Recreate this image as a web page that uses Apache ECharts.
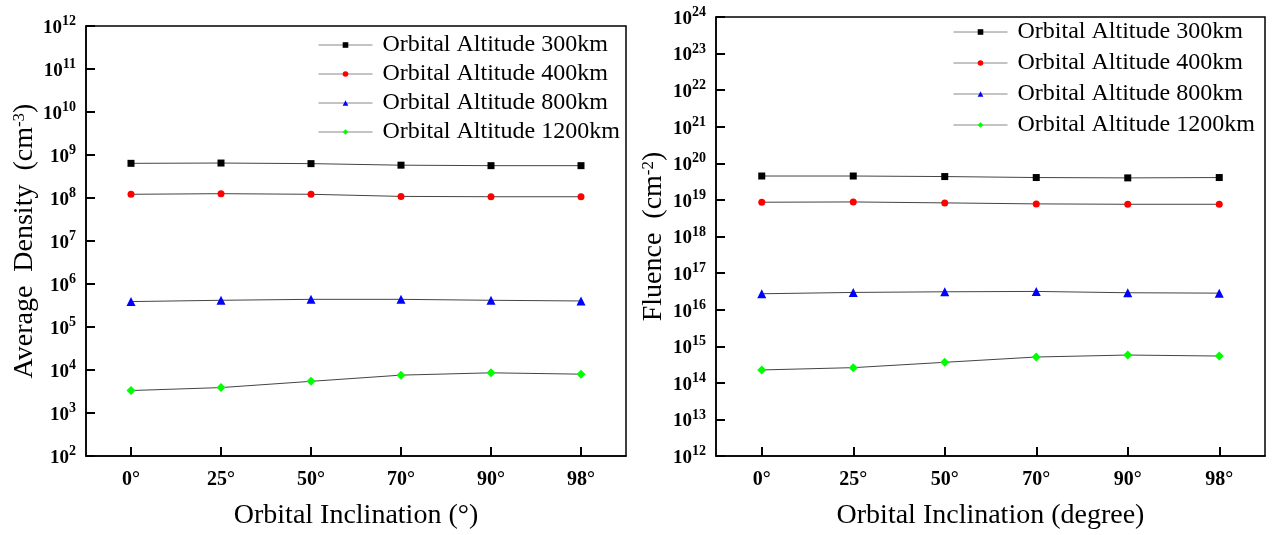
<!DOCTYPE html>
<html>
<head>
<meta charset="utf-8">
<script src="https://cdn.jsdelivr.net/npm/echarts@6/dist/echarts.min.js"></script>
<style>
  html, body { margin: 0; padding: 0; background: #fff; }
  #chart { width: 1277px; height: 535px; }
</style>
</head>
<body>
<div id="chart"></div>
<script>
// categories
const inclinations = ['0°', '25°', '50°', '70°', '90°', '98°'];
const altitudes = ['Orbital Altitude 300km', 'Orbital Altitude 400km', 'Orbital Altitude 800km', 'Orbital Altitude 1200km'];

// left: average density (cm^-3)
const density300 = [6.4e8, 6.5e8, 6.3e8, 5.8e8, 5.65e8, 5.65e8];
const density400 = [1.22e8, 1.26e8, 1.22e8, 1.09e8, 1.07e8, 1.07e8];
const density800 = [3.9e5, 4.18e5, 4.4e5, 4.4e5, 4.18e5, 4.03e5];
const density1200 = [3.33e3, 3.9e3, 5.45e3, 7.6e3, 8.6e3, 8.0e3];

// right: fluence (cm^-2)
const fluence300 = [4.5e19, 4.5e19, 4.35e19, 4.09e19, 4.0e19, 4.09e19];
const fluence400 = [8.65e18, 8.8e18, 8.3e18, 7.78e18, 7.6e18, 7.6e18];
const fluence800 = [2.72e16, 2.96e16, 3.08e16, 3.15e16, 2.9e16, 2.83e16];
const fluence1200 = [2.25e14, 2.6e14, 3.64e14, 5.08e14, 5.75e14, 5.4e14];

// axis ranges (powers of ten)
const densityRange = [1e2, 1e12];
const fluenceRange = [1e12, 1e24];

const colors = ['#000000', '#ff0000', '#0000ff', '#00ff00'];
const symbols = ['rect', 'circle', 'triangle', 'diamond'];
const sizes = [7, 7, 9, 9];
const serif = 'Liberation Serif, Times New Roman, serif';

function powLabel(v) {
  const e = Math.round(Math.log10(v));
  return '{b|10}{e|' + e + '}';
}

const labelRich = {
  b: { fontFamily: serif, fontWeight: 'bold', fontSize: 19, color: '#000', padding: [4, 0, 0, 0] },
  e: { fontFamily: serif, fontWeight: 'bold', fontSize: 14, color: '#000', verticalAlign: 'top', padding: [0, 0, 8, 0] }
};

// ticks point into the plot like the original
const tickStyle = { show: true, inside: true, length: 9, lineStyle: { color: '#000', width: 2 } };

function makeX(gridIndex, name) {
  return {
    type: 'category',
    gridIndex: gridIndex,
    data: inclinations,
    boundaryGap: true,
    name: name,
    nameLocation: 'middle',
    nameGap: 46,
    nameTextStyle: { fontFamily: serif, fontSize: 28, color: '#000' },
    axisLine: { lineStyle: { color: '#000', width: 1.5 } },
    axisTick: Object.assign({ alignWithLabel: true, interval: 0 }, tickStyle),
    axisLabel: { margin: 14, fontFamily: serif, fontWeight: 'bold', fontSize: 20, color: '#000' },
    splitLine: { show: false },
    z: 5
  };
}

function makeY(gridIndex, range, name, nameGap) {
  return {
    type: 'log',
    logBase: 10,
    gridIndex: gridIndex,
    min: range[0],
    max: range[1],
    interval: 1,
    name: name,
    nameLocation: 'middle',
    nameGap: nameGap,
    nameTextStyle: {
      rich: {
        n: { fontFamily: serif, fontSize: 28, color: '#000' },
        s: { fontFamily: serif, fontSize: 17, color: '#000', verticalAlign: 'top', padding: [0, 0, 10, 0] }
      }
    },
    axisLine: { show: true, lineStyle: { color: '#000', width: 1.5 } },
    axisTick: tickStyle,
    axisLabel: { margin: 10, formatter: powLabel, rich: labelRich },
    splitLine: { show: false },
    minorTick: { show: false },
    z: 5
  };
}

function makeSeries(idx, name, data, gridIndex) {
  return {
    name: name,
    type: 'line',
    xAxisIndex: gridIndex,
    yAxisIndex: gridIndex,
    data: data,
    symbol: symbols[idx],
    symbolSize: sizes[idx],
    showAllSymbol: true,
    itemStyle: { color: colors[idx] },
    lineStyle: { color: '#444', width: 1 },
    animation: false
  };
}

function makeLegend(left, top, gap) {
  return {
    orient: 'vertical',
    left: left,
    top: top,
    itemWidth: 54,
    itemHeight: 7,
    itemGap: gap,
    data: altitudes,
    selectedMode: false,
    lineStyle: { color: '#888', width: 1 },
    textStyle: { fontFamily: serif, fontSize: 24, color: '#000', padding: [0, 0, 0, 5] }
  };
}

const chart = echarts.init(document.getElementById('chart'));
chart.setOption({
  backgroundColor: '#fff',
  animation: false,
  grid: [
    { left: 86, top: 26, width: 540, height: 435, show: true, borderColor: '#000', borderWidth: 1.5 },
    { left: 716, top: 17, width: 549, height: 444, show: true, borderColor: '#000', borderWidth: 1.5 }
  ],
  legend: [makeLegend(313, 28, 5), makeLegend(948, 15, 7)],
  xAxis: [
    makeX(0, 'Orbital Inclination (°)'),
    makeX(1, 'Orbital Inclination (degree)')
  ],
  yAxis: [
    makeY(0, densityRange, '{n|Average  Density  (cm}{s|-3}{n|)}', 46),
    makeY(1, fluenceRange, '{n|Fluence  (cm}{s|-2}{n|)}', 48)
  ],
  series: [
    makeSeries(0, altitudes[0], density300, 0),
    makeSeries(1, altitudes[1], density400, 0),
    makeSeries(2, altitudes[2], density800, 0),
    makeSeries(3, altitudes[3], density1200, 0),
    makeSeries(0, altitudes[0], fluence300, 1),
    makeSeries(1, altitudes[1], fluence400, 1),
    makeSeries(2, altitudes[2], fluence800, 1),
    makeSeries(3, altitudes[3], fluence1200, 1)
  ]
});
</script>
</body>
</html>
